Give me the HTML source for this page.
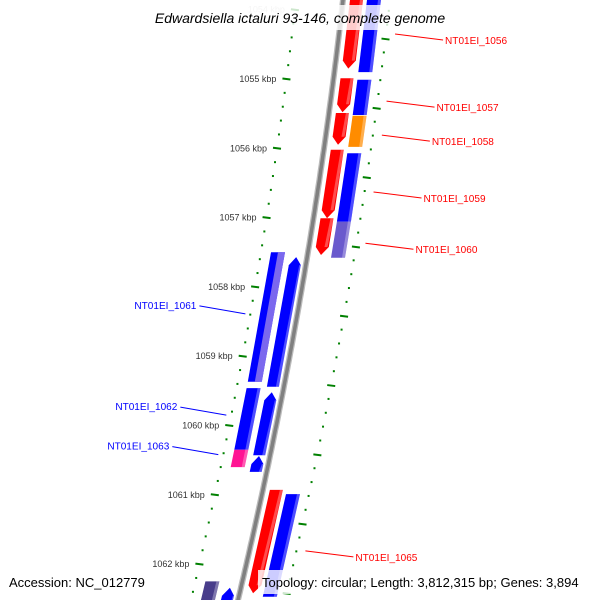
<!DOCTYPE html>
<html><head><meta charset="utf-8"><style>
html,body{margin:0;padding:0;background:#fff;}
svg{display:block;font-family:"Liberation Sans",sans-serif;}
</style></head><body>
<svg id="map" width="600" height="600" viewBox="0 0 600 600" xmlns="http://www.w3.org/2000/svg"></svg>
<script>
// ---- data (kbp) ----
const outerRedStarts = [1053.8, 1054.99, 1055.49, 1056.02, 1057.01, 1060.93];
const outerRedEnds   = [1054.85, 1055.48, 1055.95, 1057.01, 1057.54, 1062.42];
const outerBlueStarts = [1053.8, 1055.01, 1055.53, 1056.07, 1057.06, 1060.99];
const outerBlueEnds   = [1054.9, 1055.52, 1055.98, 1057.06, 1057.58, 1062.47];
const outerBlueKinds  = ['blue','blue','orange','blue','slate','blue'];
const inner1Starts = [1057.57, 1059.52, 1060.44, 1062.34];
const inner1Ends   = [1059.44, 1060.43, 1060.67, 1062.8];
const inner2Starts = [1057.5, 1059.46, 1060.35, 1062.25];
const inner2Ends   = [1059.37, 1060.35, 1060.6, 1062.8];
const inner2Kinds  = ['bluepurple','blue','magenta','dark'];
const tickLabels = [1054,1055,1056,1057,1058,1059,1060,1061,1062];
const redLabels = ['NT01EI_1056','NT01EI_1057','NT01EI_1058','NT01EI_1059','NT01EI_1060','NT01EI_1065'];
const redLabelKbp = [1054.35, 1055.32, 1055.81, 1056.63, 1057.37, 1061.81];
const blueLabels = ['NT01EI_1061','NT01EI_1062','NT01EI_1063'];
const blueLabelKbp = [1058.39, 1059.85, 1060.42];

const svg = document.getElementById('map');
const NS = 'http://www.w3.org/2000/svg';
function yOf(k){ return 79 + (k - 1055) * 69.3; }
function xc(y){ return 343 - 0.1127*y - 1.038e-4*y*y; }
const colors = {red:'#ff0000', blue:'#0000ff', orange:'#ff8c00', slate:'#6a5acd', magenta:'#ff1493', dark:'#483d8b', bluepurple:'#0000ff'};
function el(tag, attrs, parent){ const e=document.createElementNS(NS,tag); for(const k in attrs) e.setAttribute(k,attrs[k]); (parent||svg).appendChild(e); return e; }

// backbone
let pts=[]; for(let y=-5;y<=605;y+=5) pts.push((xc(y)).toFixed(1)+','+y);
const bb1 = el('polyline',{points:pts.join(' '),fill:'none',stroke:'#bbb','stroke-width':6});


const bb = el('polyline',{points:pts.join(' '),fill:'none',stroke:'#808080','stroke-width':3.5});



function feature(k1,k2,o1,o2,color,arrow,name){
  const y1=yOf(k1), y2=yOf(k2), a=8;
  const p=[];
  if(arrow==='down'){
    p.push([xc(y1)+o1,y1],[xc(y1)+o2,y1],[xc(y2-a)+o2,y2-a],[xc(y2)+(o1+o2)/2,y2],[xc(y2-a)+o1,y2-a]);
  } else if(arrow==='up'){
    p.push([xc(y1)+(o1+o2)/2,y1],[xc(y1+a)+o2,y1+a],[xc(y2)+o2,y2],[xc(y2)+o1,y2],[xc(y1+a)+o1,y1+a]);
  } else {
    p.push([xc(y1)+o1,y1],[xc(y1)+o2,y1],[xc(y2)+o2,y2],[xc(y2)+o1,y2]);
  }
  const g=el('polygon',{points:p.map(q=>q[0].toFixed(1)+','+q[1].toFixed(1)).join(' '),fill:color});
  
  
  const s=el('polygon',{points:[[xc(y1)+o2-3,y1+(arrow==='up'?a:0)],[xc(y1)+o2,y1+(arrow==='up'?a:0)],[xc(y2)+o2,y2-(arrow==='down'?a:0)],[xc(y2)+o2-3,y2-(arrow==='down'?a:0)]].map(q=>q[0].toFixed(1)+','+q[1].toFixed(1)).join(' '),fill:'#fff','fill-opacity':0.3});
  
  
}
for(let i=0;i<outerRedStarts.length;i++) feature(outerRedStarts[i],outerRedEnds[i],7,20,colors.red,'down','forward-gene-'+i);
for(let i=0;i<outerBlueStarts.length;i++) feature(outerBlueStarts[i],outerBlueEnds[i],24,38,colors[outerBlueKinds[i]],'none','forward-cds-'+i);
for(let i=0;i<inner1Starts.length;i++) feature(inner1Starts[i],inner1Ends[i],-17,-5,colors.blue,'up','reverse-gene-'+i);
for(let i=0;i<inner2Starts.length;i++){
  feature(inner2Starts[i],inner2Ends[i],-37,-23,colors[inner2Kinds[i]],'none','reverse-cds-'+i);
  if(inner2Kinds[i]==='bluepurple'){
    const y1=yOf(inner2Starts[i]), y2=yOf(inner2Ends[i]);
    const o=el('polygon',{points:[[xc(y1)-30,y1],[xc(y1)-23,y1],[xc(y2)-23,y2],[xc(y2)-30,y2]].map(q=>q[0].toFixed(1)+','+q[1].toFixed(1)).join(' '),fill:'#7b68ee'});
    
    
  }
}

// ticks
for(let k=1053.8;k<=1062.8;k+=0.2){
  const kk=Math.round(k*10)/10, y=yOf(kk);
  const major=Math.abs(kk-Math.round(kk))<0.01;
  const xl=xc(y)-47;
  const t=el('line',{x1:xl-(major?4:1),y1:y-(major?0.5:0),x2:xl+(major?4:1),y2:y+(major?0.5:0),stroke:'#008000','stroke-width':2});
  
  
  const y2=y+15, xr=xc(y2)+47;
  const outMajor=Math.abs((kk-0.2)-Math.round(kk-0.2))<0.01;
  const t2=el('line',{x1:xr-(outMajor?4:1),y1:y2,x2:xr+(outMajor?4:1),y2:y2+(outMajor?1:0),stroke:'#008000','stroke-width':2});
  
  
}
for(const k of tickLabels){
  const y=yOf(k);
  const t=el('text',{x:xc(y)-57,y:y+3,'font-size':9,fill:k===1054?'#ccc':'#333','text-anchor':'end'});
  t.textContent=k+' kbp';
  
  
}
// labels
for(let i=0;i<redLabels.length;i++){
  const y=yOf(redLabelKbp[i]), x0=xc(y)+56;
  const l=el('line',{x1:x0,y1:y,x2:x0+48,y2:y+6,stroke:'#ff0000','stroke-width':1});
  
  
  const t=el('text',{x:x0+50,y:y+10,'font-size':10.5,fill:'#ff0000',textLength:62,lengthAdjust:'spacingAndGlyphs'});
  t.textContent=redLabels[i];
  
  
}
for(let i=0;i<blueLabels.length;i++){
  const y=yOf(blueLabelKbp[i]), x0=xc(y)-52;
  const l=el('line',{x1:x0,y1:y,x2:x0-46,y2:y-8,stroke:'#0000ff','stroke-width':1});
  
  
  const t=el('text',{x:x0-49,y:y-5,'font-size':10.5,fill:'#0000ff','text-anchor':'end',textLength:62,lengthAdjust:'spacingAndGlyphs'});
  t.textContent=blueLabels[i];
  
  
}
</script>
<svg style="position:absolute;left:0;top:0" width="600" height="600">
<rect x="136" y="5" width="328" height="25" fill="#fff" fill-opacity="0.8"/>
<text x="300" y="23" text-anchor="middle" font-size="14" font-style="italic" fill="#000" font-family="Liberation Sans, sans-serif">Edwardsiella ictaluri 93-146, complete genome</text>
<text x="9" y="587" font-size="13" fill="#000" font-family="Liberation Sans, sans-serif">Accession: NC_012779</text>
<rect x="258" y="570" width="336" height="24" fill="#fff" fill-opacity="0.8"/>
<text x="262" y="587" font-size="13" fill="#000" font-family="Liberation Sans, sans-serif">Topology: circular; Length: 3,812,315 bp; Genes: 3,894</text>
</svg>
</body></html>
